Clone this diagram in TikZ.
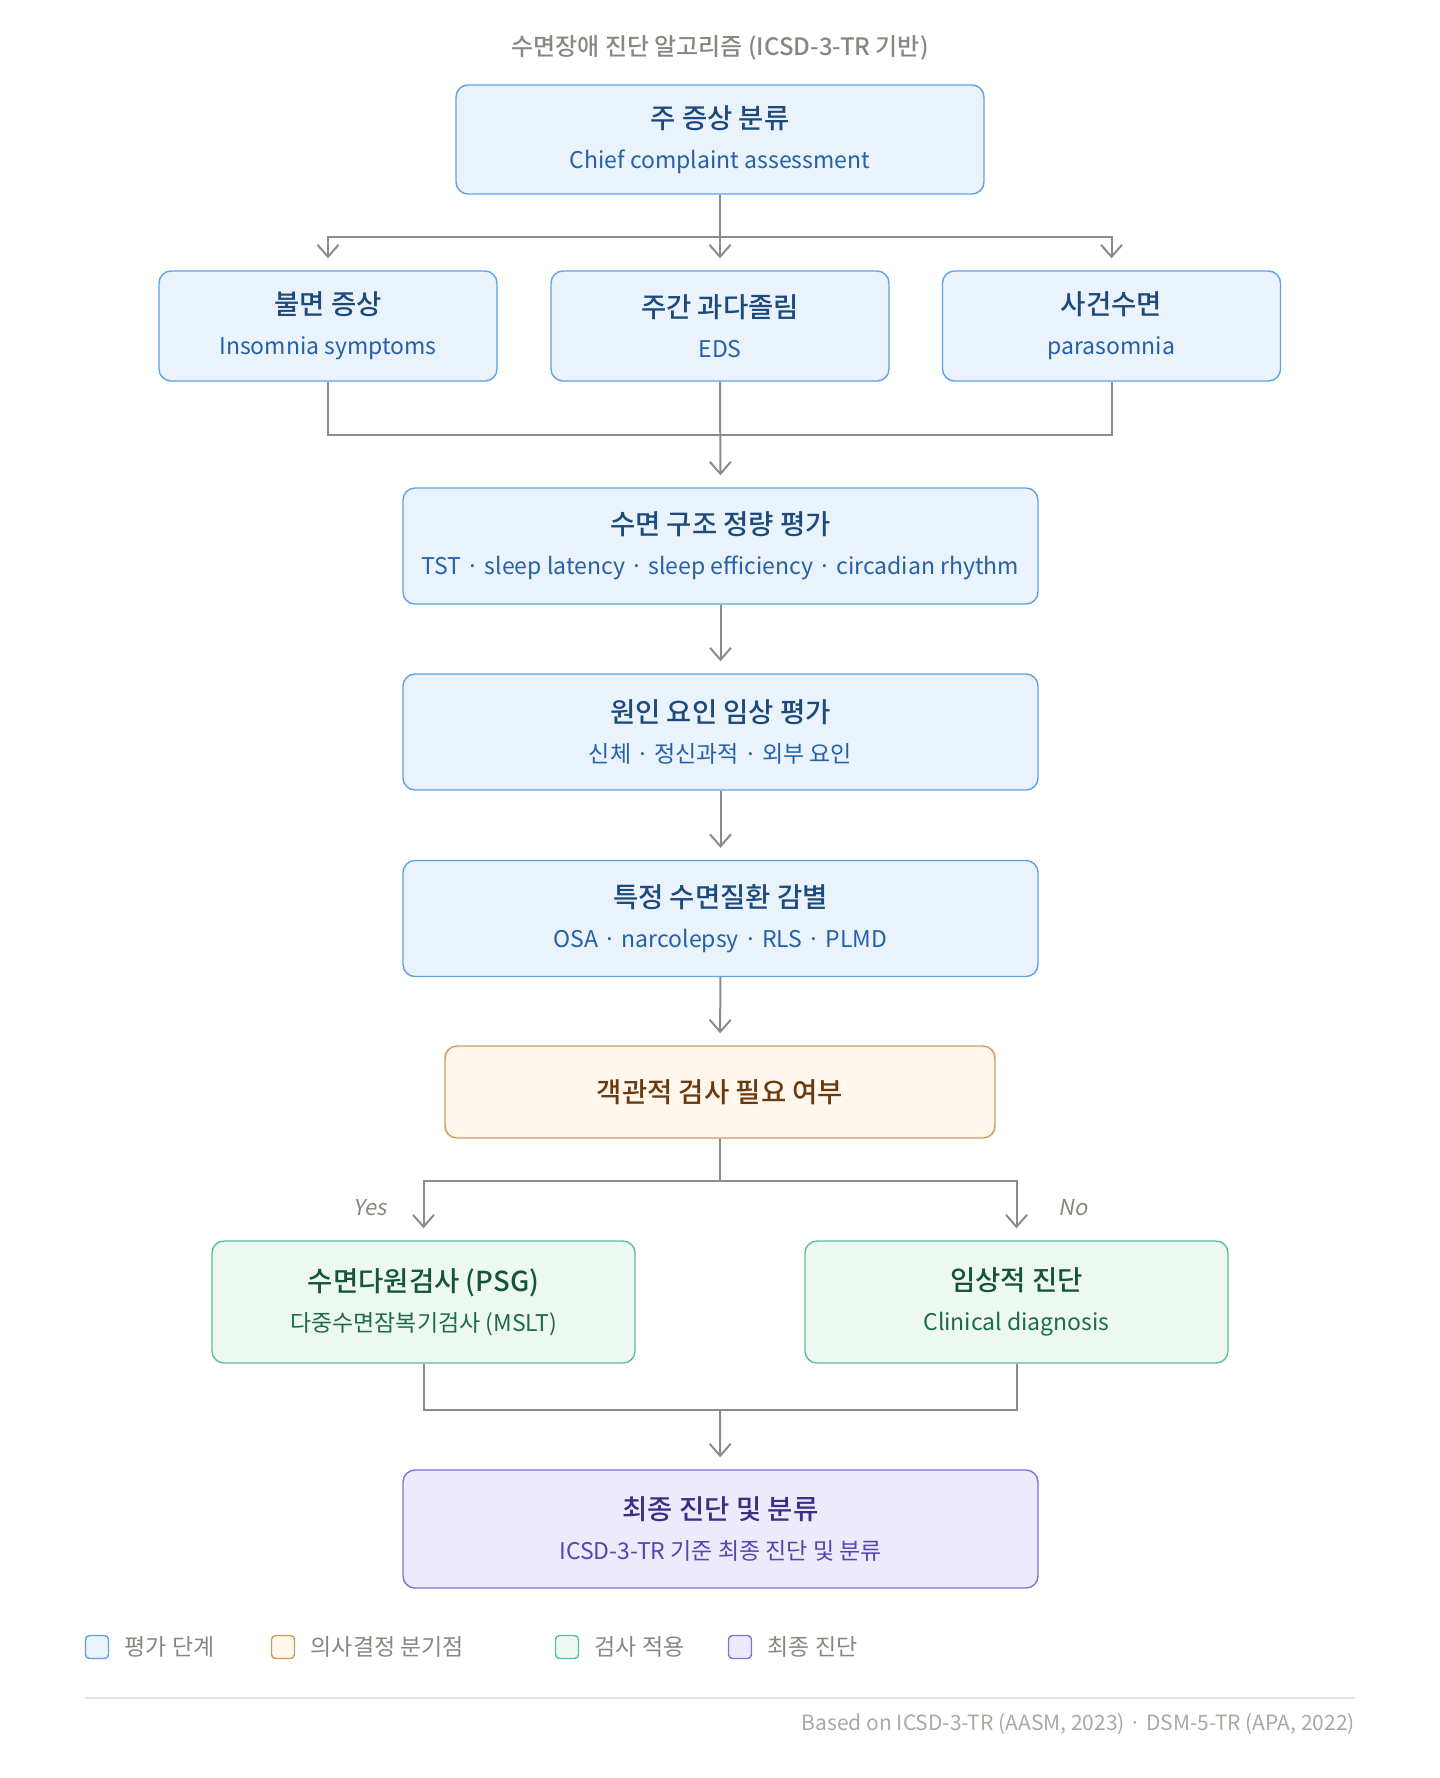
\documentclass[tikz,border=0pt]{standalone}
\usepackage{fontspec}
\setmainfont{Noto Sans CJK KR}[BoldFont={Noto Sans CJK KR Medium}]
\newfontfamily\slantfont[FakeSlant=0.18]{Noto Sans CJK KR}
\usepackage{xcolor}
\usetikzlibrary{arrows.meta, positioning}

\definecolor{bfill}{HTML}{EAF2FC}
\definecolor{bdraw}{HTML}{5FA2E4}
\definecolor{btitle}{HTML}{1B4A7C}
\definecolor{bsub}{HTML}{2461A6}
\definecolor{ofill}{HTML}{FFF6EC}
\definecolor{odraw}{HTML}{D39A55}
\definecolor{otitle}{HTML}{6A3A0E}
\definecolor{gfill}{HTML}{EEF8F2}
\definecolor{gdraw}{HTML}{5CBE96}
\definecolor{gtitle}{HTML}{13553A}
\definecolor{gsub}{HTML}{1C6B4A}
\definecolor{pfill}{HTML}{EDEBFB}
\definecolor{pdraw}{HTML}{7F73D3}
\definecolor{ptitle}{HTML}{3A2E86}
\definecolor{psub}{HTML}{5345B5}
\definecolor{linegray}{HTML}{8C8C86}
\definecolor{textgray}{HTML}{88887F}
\definecolor{footgray}{HTML}{A9A9A2}
\definecolor{rulegray}{HTML}{E2E2E0}

\newcommand{\subcol}{bsub}
\newcommand{\boxttl}[1]{{\fontsize{27.5}{32}\selectfont\bfseries #1}}
\newcommand{\boxsub}[1]{{\fontsize{23}{27}\selectfont\color{\subcol}#1}}
\newcommand{\sep}{\ ·\ }

\begin{document}
\begin{tikzpicture}[x=1pt, y=-1pt,
    >={Straight Barb[length=12pt, width=21pt, line width=2pt]},
    box/.style={rounded corners=12pt, line width=1.4pt, align=center,
        inner sep=0pt, font=\fontsize{20}{40}\selectfont},
    evalbox/.style={box, fill=bfill, draw=bdraw, text=btitle,
        execute at begin node=\renewcommand{\subcol}{bsub}},
    decbox/.style={box, fill=ofill, draw=odraw, text=otitle},
    testbox/.style={box, fill=gfill, draw=gdraw, text=gtitle,
        execute at begin node=\renewcommand{\subcol}{gsub}},
    finalbox/.style={box, fill=pfill, draw=pdraw, text=ptitle,
        execute at begin node=\renewcommand{\subcol}{psub}},
    conn/.style={line width=2pt, draw=linegray},
    arr/.style={conn, ->, shorten >=12pt},
    key/.style={rounded corners=4pt, line width=1.4pt, minimum size=23pt, inner sep=0pt},
    keytext/.style={right=12pt of #1, text=textgray, font=\fontsize{23}{27}\selectfont}]

\useasboundingbox (0,0) rectangle (1440,1778);

% ── Title ────────────────────────────────────────────────────────
\node[text=textgray, font=\fontsize{24}{28}\selectfont\bfseries] (title) at (720,48)
    {수면장애 진단 알고리즘 (ICSD-3-TR 기반)};

% ── Chief complaint ─────────────────────────────────────────────
\node[evalbox, minimum width=528pt, minimum height=109pt] (chief) at (720,139.5)
    {\boxttl{주 증상 분류}\\\boxsub{Chief complaint assessment}};

% ── Symptom groups ──────────────────────────────────────────────
\node[evalbox, minimum width=338pt, minimum height=110pt] (insom) at (328,326)
    {\boxttl{불면 증상}\\\boxsub{Insomnia symptoms}};
\node[evalbox, minimum width=338pt, minimum height=110pt] (eds) at (720,326)
    {\boxttl{주간 과다졸림}\\\boxsub{EDS}};
\node[evalbox, minimum width=338pt, minimum height=110pt] (para) at (1111.5,326)
    {\boxttl{사건수면}\\\boxsub{parasomnia}};

\coordinate (fork1) at (720,237);
\draw[arr] (chief) -- (eds);
\draw[arr] (fork1) -| (insom);
\draw[arr] (fork1) -| (para);

% ── Assessment steps ────────────────────────────────────────────
\node[evalbox, minimum width=635pt, minimum height=116pt] (struct) at (720.5,546)
    {\boxttl{수면 구조 정량 평가}\\\boxsub{TST\sep sleep latency\sep sleep efficiency\sep circadian rhythm}};
\node[evalbox, minimum width=635pt, minimum height=116pt] (cause) at (720.5,732)
    {\boxttl{원인 요인 임상 평가}\\\boxsub{신체\sep 정신과적\sep 외부 요인}};
\node[evalbox, minimum width=635pt, minimum height=116pt] (diff) at (720.5,918.5)
    {\boxttl{특정 수면질환 감별}\\\boxsub{OSA\sep narcolepsy\sep RLS\sep PLMD}};

\coordinate (merge1) at (720,435);
\draw[conn] (insom) |- (merge1);
\draw[conn] (para) |- (merge1);
\draw[arr] (eds) -- (struct);
\draw[arr] (struct) -- (cause);
\draw[arr] (cause) -- (diff);

% ── Decision ────────────────────────────────────────────────────
\node[decbox, minimum width=550pt, minimum height=92pt] (decide) at (720,1092)
    {\boxttl{객관적 검사 필요 여부}};
\draw[arr] (diff) -- (decide);

\node[testbox, minimum width=423pt, minimum height=122pt] (psg) at (423.5,1302)
    {\boxttl{수면다원검사 (PSG)}\\\boxsub{다중수면잠복기검사 (MSLT)}};
\node[testbox, minimum width=423pt, minimum height=122pt] (clin) at (1016.5,1302)
    {\boxttl{임상적 진단}\\\boxsub{Clinical diagnosis}};

\coordinate (fork2) at (720,1181);
\draw[conn] (decide) -- (fork2);
\draw[arr] (fork2) -| (psg);
\draw[arr] (fork2) -| (clin);
\node[text=textgray, font=\fontsize{22}{26}\slantfont] (yes) at (370,1208) {Yes};
\node[text=textgray, font=\fontsize{22}{26}\slantfont] (no) at (1073,1208) {No};

% ── Final ───────────────────────────────────────────────────────
\node[finalbox, minimum width=635pt, minimum height=118pt] (final) at (720.5,1529)
    {\boxttl{최종 진단 및 분류}\\\boxsub{ICSD-3-TR 기준 최종 진단 및 분류}};

\coordinate (merge2) at (720,1410);
\draw[conn] (psg) |- (merge2);
\draw[conn] (clin) |- (merge2);
\draw[arr] (merge2) -- (final);

% ── Legend ──────────────────────────────────────────────────────
\node[key, fill=bfill, draw=bdraw] (k1) at (97,1647) {};
\node[keytext=k1] (k1t) {평가 단계};
\node[key, fill=ofill, draw=odraw] (k2) at (283,1647) {};
\node[keytext=k2] (k2t) {의사결정 분기점};
\node[key, fill=gfill, draw=gdraw] (k3) at (567,1647) {};
\node[keytext=k3] (k3t) {검사 적용};
\node[key, fill=pfill, draw=pdraw] (k4) at (740,1647) {};
\node[keytext=k4] (k4t) {최종 진단};

% ── Footer ──────────────────────────────────────────────────────
\coordinate (ruleL) at (85,1698);
\coordinate (ruleR) at (1355,1698);
\draw[rulegray, line width=1.2pt] (ruleL) -- (ruleR);
\node[anchor=east, inner sep=0pt, text=footgray, font=\fontsize{21}{25}\selectfont] (foot) at (1355,1724)
    {Based on ICSD-3-TR (AASM, 2023)\sep DSM-5-TR (APA, 2022)};

\end{tikzpicture}
\end{document}
